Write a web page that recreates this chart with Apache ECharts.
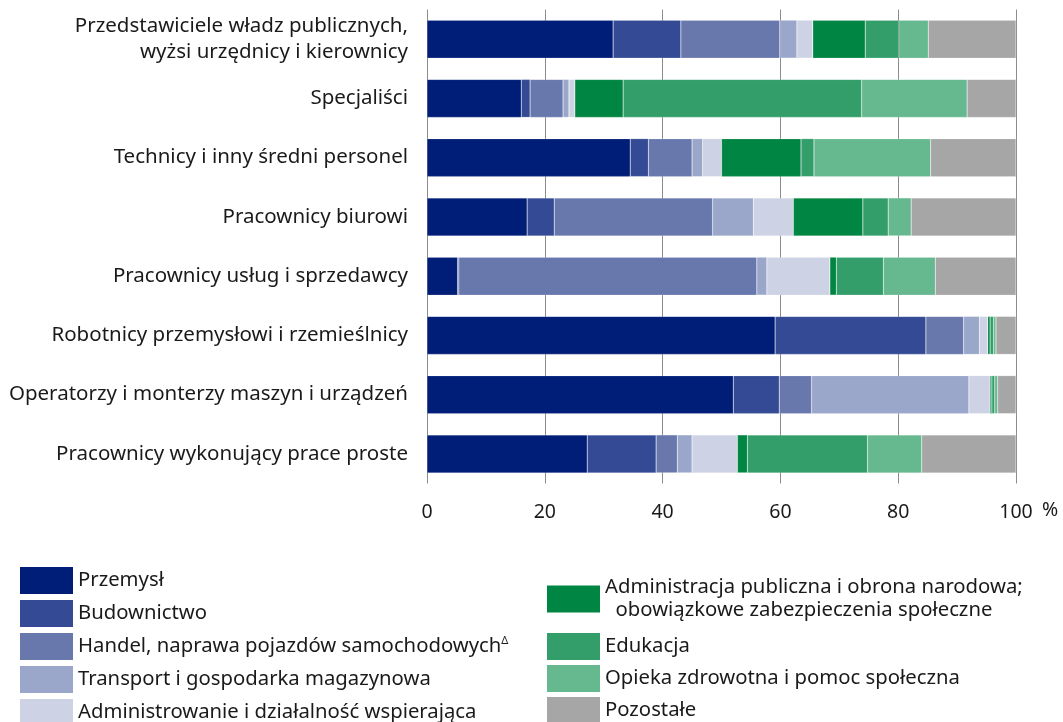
<!DOCTYPE html>
<html>
<head>
<meta charset="utf-8">
<script src="https://cdn.jsdelivr.net/npm/echarts@6/dist/echarts.min.js"></script>
<style>html,body{margin:0;padding:0;background:#fff}#c{width:1063px;height:722px}</style>
</head>
<body>
<div id="c"></div>
<script>
const categories = [
  "Przedstawiciele władz publicznych,\nwyżsi urzędnicy i kierownicy",
  "Specjaliści",
  "Technicy i inny średni personel",
  "Pracownicy biurowi",
  "Pracownicy usług i sprzedawcy",
  "Robotnicy przemysłowi i rzemieślnicy",
  "Operatorzy i monterzy maszyn i urządzeń",
  "Pracownicy wykonujący prace proste"
];
const seriesNames = [
  "Przemysł",
  "Budownictwo",
  "Handel, naprawa pojazdów samochodowych",
  "Transport i gospodarka magazynowa",
  "Administrowanie i działalność wspierająca",
  "Administracja publiczna i obrona narodowa;\n  obowiązkowe zabezpieczenia społeczne",
  "Edukacja",
  "Opieka zdrowotna i pomoc społeczna",
  "Pozostałe"
];
const przemysl      = [31.6, 16.0, 34.5, 17.0,  5.2, 59.1, 52.0, 27.2];
const budownictwo   = [11.5,  1.5,  3.1,  4.6,  0.2, 25.6,  7.8, 11.7];
const handel        = [16.8,  5.6,  7.4, 26.9, 50.6,  6.4,  5.5,  3.6];
const transport     = [ 2.9,  1.0,  1.8,  6.9,  1.7,  2.7, 26.7,  2.5];
const administrowanie=[ 2.7,  1.0,  3.2,  6.8, 10.7,  1.4,  3.6,  7.7];
const admPubliczna  = [ 8.9,  8.2, 13.5, 11.8,  1.1,  0.4,  0.3,  1.7];
const edukacja      = [ 5.7, 40.5,  2.2,  4.3,  8.0,  0.6,  0.5, 20.4];
const opieka        = [ 5.0, 17.9, 19.8,  3.9,  8.8,  0.4,  0.5,  9.2];
const pozostale     = [14.9,  8.3, 14.5, 17.8, 13.7,  3.4,  3.1, 16.0];
const xTicks = [0, 20, 40, 60, 80, 100];
const values = [przemysl, budownictwo, handel, transport, administrowanie, admPubliczna, edukacja, opieka, pozostale];
const colors = ["#001E78", "#344A94", "#6878AD", "#9AA7CA", "#CDD2E5", "#008542", "#339E69", "#66B88E", "#A6A6A6"];

const FONT = "Noto Sans";
const chart = echarts.init(document.getElementById('c'), null, {renderer: 'canvas'});

const legendText = {
  fontFamily: FONT, fontSize: 20.3, color: '#1a1a1a', lineHeight: 23,
  rich: { sup: { fontFamily: FONT, fontSize: 11, color: '#1a1a1a', verticalAlign: 'top', lineHeight: 23, padding: [0,0,8,0] } }
};
const legendFormatter = function (n) {
  if (n === seriesNames[2]) return n + '{sup|Δ}';
  return n;
};
const legendBase = {
  orient: 'vertical', itemWidth: 53, itemHeight: 27, padding: 0, height: 300, width: 520,
  icon: 'rect', itemStyle: { borderWidth: 0 }, textStyle: legendText, selectedMode: false
};

chart.setOption({
  animation: false,
  color: colors,
  grid: { left: 427, right: 47, top: 9.5, bottom: 238.5, containLabel: false },
  xAxis: {
    type: 'value', min: 0, max: 100, interval: 20,
    axisLine: { show: false },
    axisTick: { show: false },
    splitLine: { show: true, lineStyle: { color: '#8c8c8c', width: 1 } },
    axisLabel: {
      fontFamily: FONT, fontSize: 19.5, color: '#1a1a1a', margin: 19,
      formatter: function (v) { return xTicks.indexOf(v) >= 0 ? String(v) : ''; }
    }
  },
  yAxis: {
    type: 'category', data: categories, inverse: true,
    axisLine: { show: false }, axisTick: { show: false },
    axisLabel: { fontFamily: FONT, fontSize: 20.5, color: '#1a1a1a', margin: 19, lineHeight: 26, align: 'right' }
  },
  legend: [
    Object.assign({}, legendBase, { left: 20, top: 567, itemGap: 6, data: seriesNames.slice(0, 5), formatter: legendFormatter }),
    Object.assign({}, legendBase, { left: 547, top: 576, itemGap: 6, data: seriesNames.slice(5, 6) }),
    Object.assign({}, legendBase, { left: 547, top: 633, itemGap: 5, data: seriesNames.slice(6) })
  ],
  graphic: [
    { type: 'text', left: 1042, top: 500, style: { text: '%', fontFamily: FONT, fontSize: 19.5, fill: '#1a1a1a' } }
  ],
  series: seriesNames.map(function (name, i) {
    return {
      name: name, type: 'bar', stack: 'total', data: values[i], barWidth: 38,
      itemStyle: { color: colors[i], borderColor: 'rgba(255,255,255,0.35)', borderWidth: 0.5 },
      emphasis: { disabled: true }
    };
  })
});
</script>
</body>
</html>
